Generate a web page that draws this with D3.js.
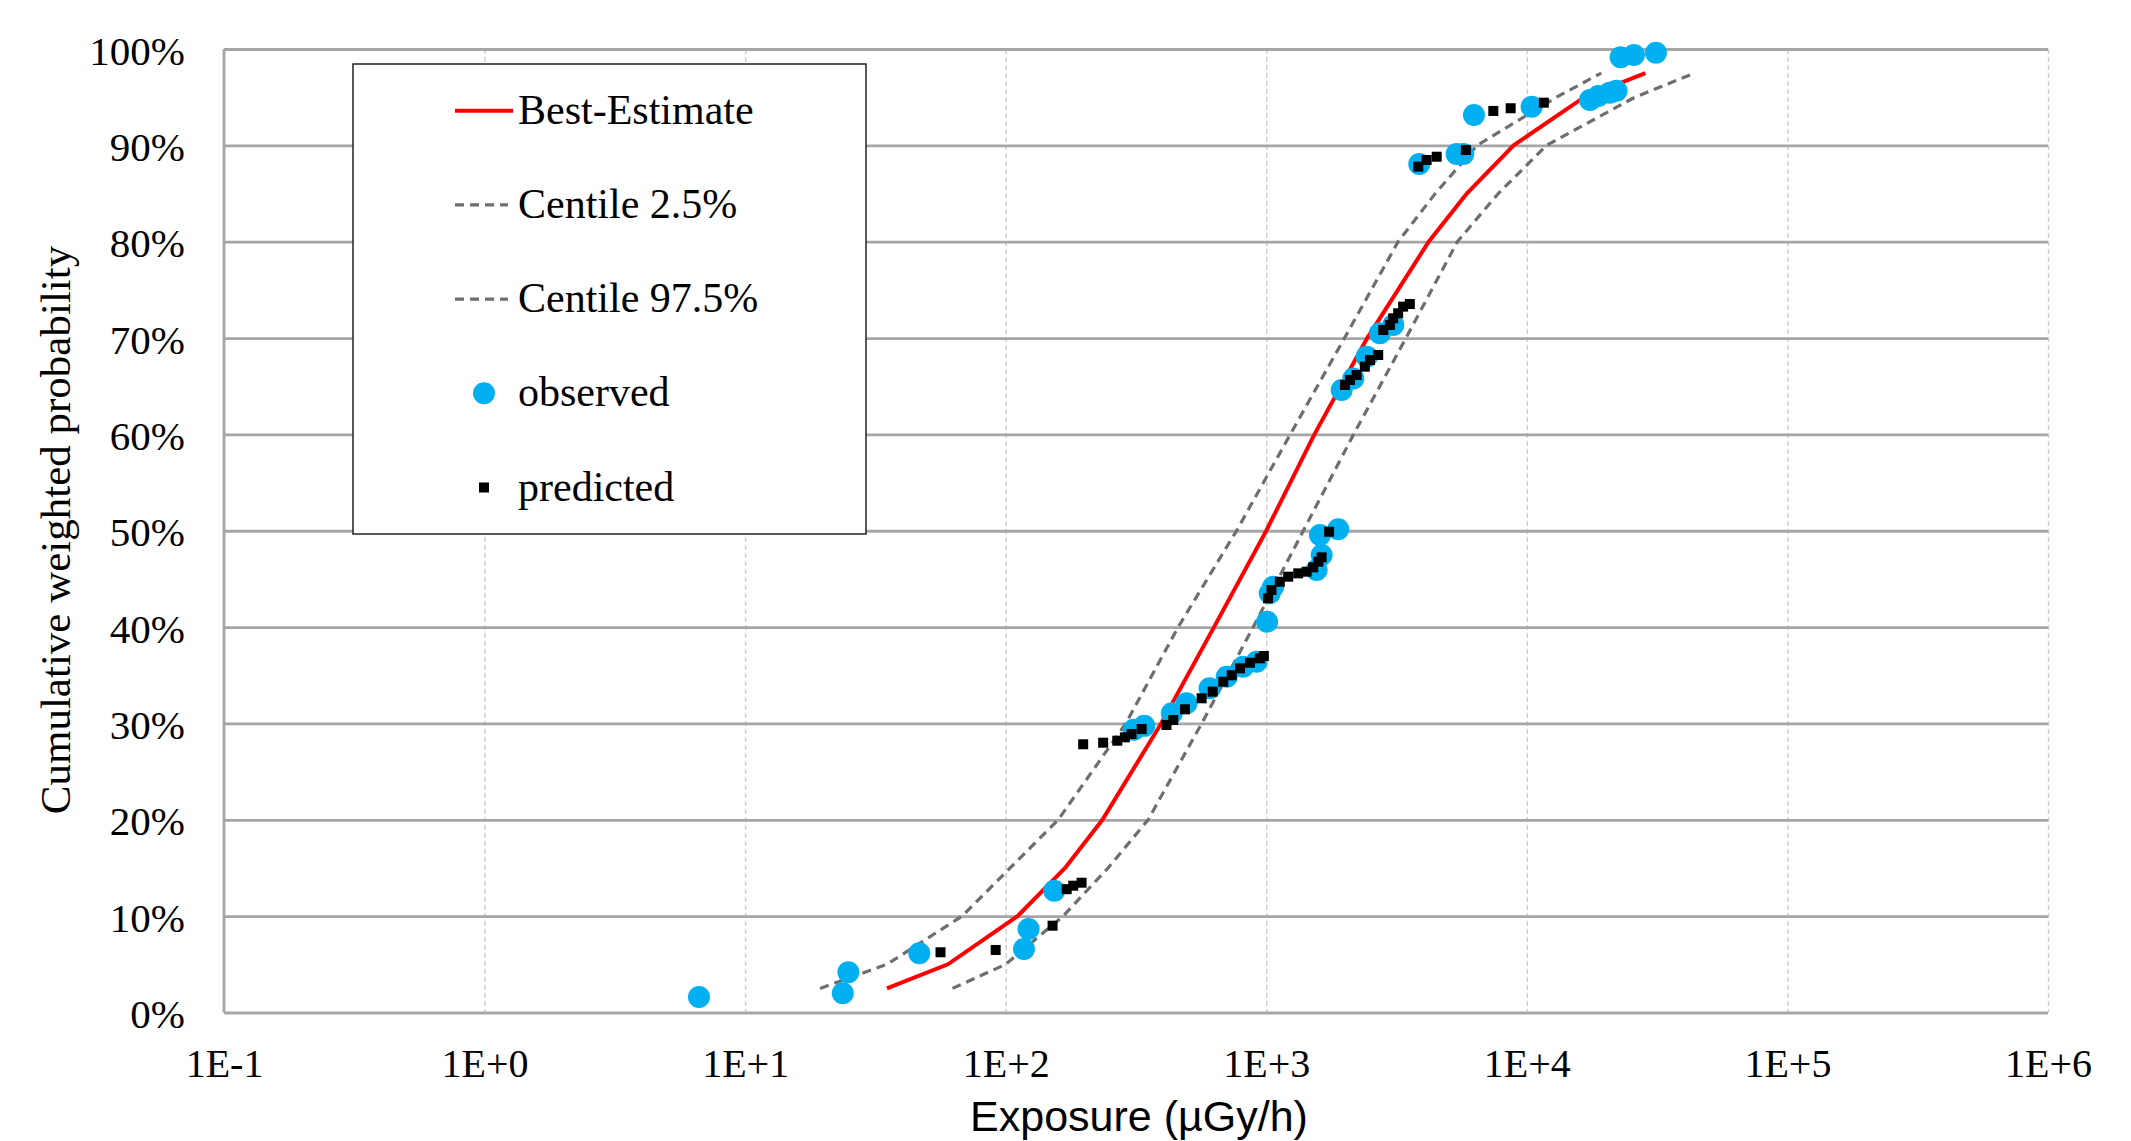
<!DOCTYPE html>
<html>
<head>
<meta charset="utf-8">
<script src="https://cdn.jsdelivr.net/npm/d3@7"></script>
<style>
  html, body { margin: 0; padding: 0; background: #fff; }
  svg { display: block; }
  .tick text { font-family: "Liberation Serif", "Times New Roman", serif; fill: #000; }
</style>
</head>
<body>
<svg id="chart"></svg>
<script>
// probability levels used by the three model curves
const levels = [0.025, 0.05, 0.1, 0.15, 0.2, 0.3, 0.4, 0.5, 0.6, 0.7, 0.8, 0.85, 0.9, 0.95, 0.975];
const bestEstimate = [35, 60, 111, 169, 235, 395, 630, 1000, 1530, 2440, 4200, 5880, 8900, 16600, 28500];
const centile025 = [19.4, 35, 68, 104, 159, 289, 459, 769, 1236, 1996, 3206, 4450, 6450, 13000, 19300];
const centile975 = [62.5, 100, 166, 247, 352, 565, 891, 1387, 2163, 3437, 5410, 7770, 11900, 26000, 44000];

// observed exposures (µGy/h) and cumulative weighted probability
const observedX = [6.65, 23.7, 24.9, 46.6, 117.5, 122.4, 153.5, 310, 340,
  434, 494, 606, 705, 815, 918, 1007, 1031, 1062, 1560, 1631, 1607, 1888,
  1947, 2158, 2429, 2729, 3070,
  3864, 5375, 5703, 6265, 10430, 17460, 18800, 20810, 22080, 22900, 25760, 31290];
const observedP = [0.016, 0.020, 0.0417, 0.0614, 0.0659, 0.0867, 0.1264, 0.2935, 0.2975,
  0.3105, 0.3209, 0.3365, 0.3485, 0.3589, 0.3641, 0.4056, 0.4351, 0.4419, 0.4593, 0.4748, 0.4956, 0.5015,
  0.6461, 0.658, 0.6807, 0.7049, 0.7136,
  0.8806, 0.891, 0.891, 0.9315, 0.9401, 0.947, 0.9513, 0.9547, 0.9567, 0.9914, 0.9938, 0.9962];

// predicted exposures and probability
const predictedX = [56.2, 91.5, 151.3, 171.4, 181.6, 195.5,
  198.3, 236.6, 268, 286.6, 304, 332.5,
  414, 439.5, 487.5, 564.9, 622.6, 683.7, 736.7, 792.9, 865.5, 944.7, 979,
  1016, 1047, 1127, 1214, 1326, 1428, 1514, 1583, 1631, 1742,
  2004, 2094, 2221, 2389, 2500, 2689, 2812, 2981, 3070, 3207, 3351, 3555,
  3831, 4125, 4509, 5834, 7436, 8666, 11620];
const predictedP = [0.0625, 0.0649, 0.0901, 0.128, 0.1316, 0.1347,
  0.2784, 0.28, 0.2821, 0.2856, 0.289, 0.2942,
  0.2984, 0.3036, 0.3147, 0.3261, 0.333, 0.3433, 0.35, 0.3572, 0.363, 0.3676, 0.37,
  0.4299, 0.4385, 0.4471, 0.4523, 0.4558, 0.4575, 0.462, 0.4679, 0.4724, 0.499,
  0.6513, 0.6565, 0.6616, 0.6703, 0.6772, 0.6824, 0.7084, 0.7136, 0.7205, 0.7257, 0.7326, 0.7353,
  0.8779, 0.8848, 0.8882, 0.8952, 0.9357, 0.9385, 0.9443];

const xTicks = [1e-1, 1e0, 1e1, 1e2, 1e3, 1e4, 1e5, 1e6];
const yTicks = [0, 0.1, 0.2, 0.3, 0.4, 0.5, 0.6, 0.7, 0.8, 0.9, 1];

const legendItems = [
  { label: 'Best-Estimate', type: 'line' },
  { label: 'Centile 2.5%', type: 'dash' },
  { label: 'Centile 97.5%', type: 'dash' },
  { label: 'observed', type: 'circle' },
  { label: 'predicted', type: 'square' }
];

const W = 2131, H = 1141;
const margin = { top: 49, right: 83, bottom: 128.5, left: 224 };
const width = W - margin.left - margin.right;
const height = H - margin.top - margin.bottom;

const serif = '"Liberation Serif", "Times New Roman", serif';
const sans = '"Liberation Sans", Arial, sans-serif';
const redLine = 4;
const dashLine = 3.2;

const svg = d3.select('#chart')
  .attr('width', W)
  .attr('height', H)
  .attr('viewBox', `0 0 ${W} ${H}`);

const x = d3.scaleLog().domain([1e-1, 1e6]).range([0, width]);
const y = d3.scaleLinear().domain([0, 1]).range([height, 0]);

const g = svg.append('g')
  .attr('transform', `translate(${margin.left}, ${margin.top})`);

// vertical dashed grid
const xGrid = g.append('g').attr('class', 'grid--x')
  .call(d3.axisBottom(x).tickValues(xTicks).tickSize(height).tickFormat(''));
xGrid.select('.domain').remove();
xGrid.selectAll('.tick line')
  .attr('stroke', '#cfcfcf')
  .attr('stroke-width', 1.5)
  .attr('stroke-dasharray', '5,3');

// horizontal solid grid
const yGrid = g.append('g').attr('class', 'grid--y')
  .call(d3.axisLeft(y).tickValues(yTicks).tickSize(-width).tickFormat(''));
yGrid.select('.domain').remove();
yGrid.selectAll('.tick line')
  .attr('stroke', '#a6a6a6')
  .attr('stroke-width', 2.8);

// left axis line
g.append('line')
  .attr('x1', 0).attr('x2', 0)
  .attr('y1', 0).attr('y2', height)
  .attr('stroke', '#a6a6a6')
  .attr('stroke-width', 2.8);

// tick labels
const xAxis = g.append('g').attr('class', 'axis--x')
  .attr('transform', `translate(0, ${height})`)
  .call(d3.axisBottom(x).tickValues(xTicks).tickSize(0)
    .tickFormat(d => {
      const e = Math.round(Math.log10(d));
      return '1E' + (e < 0 ? '-' : '+') + Math.abs(e);
    }));
xAxis.select('.domain').remove();
xAxis.selectAll('.tick text')
  .attr('y', 64)
  .attr('dy', null)
  .style('font-size', '40px');

const yAxis = g.append('g').attr('class', 'axis--y')
  .call(d3.axisLeft(y).tickValues(yTicks).tickSize(0).tickFormat(d3.format('.0%')));
yAxis.select('.domain').remove();
yAxis.selectAll('.tick text')
  .attr('x', -39)
  .attr('dy', 15)
  .style('font-size', '41px');

// axis titles
svg.append('text')
  .attr('x', 1139)
  .attr('y', 1131)
  .attr('text-anchor', 'middle')
  .style('font-family', sans)
  .style('font-size', '43px')
  .text('Exposure (µGy/h)');

svg.append('text')
  .attr('transform', 'translate(70, 530) rotate(-90)')
  .attr('text-anchor', 'middle')
  .style('font-family', serif)
  .style('font-size', '43px')
  .text('Cumulative weighted probability');

// curves
const line = d3.line()
  .x(d => x(d[0]))
  .y(d => y(d[1]));

const curves = [
  { values: centile025, stroke: '#6e6e6e', dash: '9,6', width: dashLine },
  { values: centile975, stroke: '#6e6e6e', dash: '9,6', width: dashLine },
  { values: bestEstimate, stroke: '#ff0000', dash: null, width: redLine }
];

g.append('g').attr('class', 'curves')
  .selectAll('path')
  .data(curves)
  .join('path')
  .attr('d', c => line(c.values.map((v, i) => [v, levels[i]])))
  .attr('fill', 'none')
  .attr('stroke', c => c.stroke)
  .attr('stroke-width', c => c.width)
  .attr('stroke-dasharray', c => c.dash);

// observed points
g.append('g').attr('class', 'observed')
  .selectAll('circle')
  .data(observedX.map((v, i) => [v, observedP[i]]))
  .join('circle')
  .attr('cx', d => x(d[0]))
  .attr('cy', d => y(d[1]))
  .attr('r', 11)
  .attr('fill', '#00b0f0');

// predicted points
const sq = 10;
g.append('g').attr('class', 'predicted')
  .selectAll('rect')
  .data(predictedX.map((v, i) => [v, predictedP[i]]))
  .join('rect')
  .attr('x', d => x(d[0]) - sq / 2)
  .attr('y', d => y(d[1]) - sq / 2)
  .attr('width', sq)
  .attr('height', sq)
  .attr('fill', '#000');

// legend
const legend = svg.append('g').attr('class', 'legend')
  .attr('transform', 'translate(353, 64)');

legend.append('rect')
  .attr('width', 513)
  .attr('height', 470)
  .attr('fill', '#fff')
  .attr('stroke', '#222')
  .attr('stroke-width', 1.5);

const rows = legend.selectAll('g.row')
  .data(legendItems)
  .join('g')
  .attr('class', 'row')
  .attr('transform', (d, i) => `translate(0, ${46.7 + i * 94.2})`);

rows.filter(d => d.type === 'line').append('line')
  .attr('x1', 102).attr('x2', 160)
  .attr('stroke', '#ff0000')
  .attr('stroke-width', redLine);

rows.filter(d => d.type === 'dash').append('line')
  .attr('x1', 102).attr('x2', 155)
  .attr('stroke', '#6e6e6e')
  .attr('stroke-width', dashLine)
  .attr('stroke-dasharray', '9,6');

rows.filter(d => d.type === 'circle').append('circle')
  .attr('cx', 131)
  .attr('r', 11)
  .attr('fill', '#00b0f0');

rows.filter(d => d.type === 'square').append('rect')
  .attr('x', 131 - sq / 2)
  .attr('y', -sq / 2)
  .attr('width', sq)
  .attr('height', sq)
  .attr('fill', '#000');

rows.append('text')
  .attr('x', 165)
  .attr('y', 13)
  .style('font-family', serif)
  .style('font-size', '42px')
  .text(d => d.label);
</script>
</body>
</html>
